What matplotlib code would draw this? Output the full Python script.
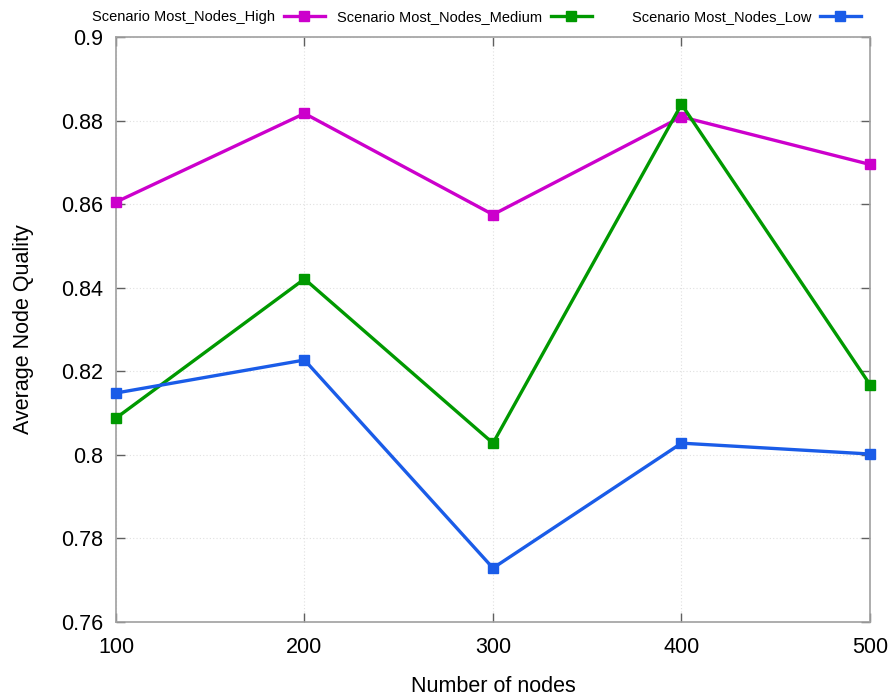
import matplotlib
matplotlib.use('Agg')
import matplotlib.pyplot as plt
from matplotlib.ticker import FuncFormatter

plt.rcParams['font.family'] = ['Liberation Sans', 'DejaVu Sans']

nodes = [100, 200, 300, 400, 500]
high = [0.8605, 0.8817, 0.8575, 0.8809, 0.8695]
medium = [0.8088, 0.8421, 0.8028, 0.8839, 0.8168]
low = [0.8148, 0.8227, 0.7729, 0.8028, 0.8002]

labels = ['Scenario Most_Nodes_High', 'Scenario Most_Nodes_Medium', 'Scenario Most_Nodes_Low']
colors = ['#cc00cc', '#009900', '#1a5ce8']

fig = plt.figure(figsize=(8.95, 6.97), dpi=100)
ax = fig.add_axes([116 / 895, 1 - 622 / 697, (870 - 116) / 895, (622 - 37) / 697])

lines = []
for ys, lab, c in zip([high, medium, low], labels, colors):
    ln, = ax.plot(nodes, ys, color=c, lw=2.4, marker='s', markersize=6.8,
                  label=lab, clip_on=False, zorder=3)
    lines.append(ln)

ax.set_xlim(100, 500)
ax.set_ylim(0.76, 0.9)
ax.set_xticks(nodes)
ax.set_yticks([0.76, 0.78, 0.8, 0.82, 0.84, 0.86, 0.88, 0.9])
ax.yaxis.set_major_formatter(FuncFormatter(lambda v, p: '%g' % round(v, 4)))

ax.grid(True, color='#e0e0e0', linestyle=(0, (1, 2)), linewidth=0.8)
ax.tick_params(direction='in', length=6.5, width=1, color='#606060',
               top=True, right=True, labelsize=15.5, pad=9)
ax.tick_params(axis='x', pad=11)
for s in ax.spines.values():
    s.set_color('#a0a0a0')
    s.set_linewidth(1.2)

ax.set_xlabel('Number of nodes', fontsize=15.5, labelpad=13)
ax.set_ylabel('Average Node Quality', fontsize=15.5, labelpad=20)

# one legend per series, text before sample like gnuplot
rights = [335, 602, 871]
for ln, r in zip(lines, rights):
    fig.legend(handles=[ln], loc='upper right', bbox_to_anchor=(r / 895, 1.0),
               frameon=False, markerfirst=False, fontsize=10.5,
               handlelength=2.8, handletextpad=0.6, borderaxespad=0.3)

fig.savefig('out.png', dpi=100)
